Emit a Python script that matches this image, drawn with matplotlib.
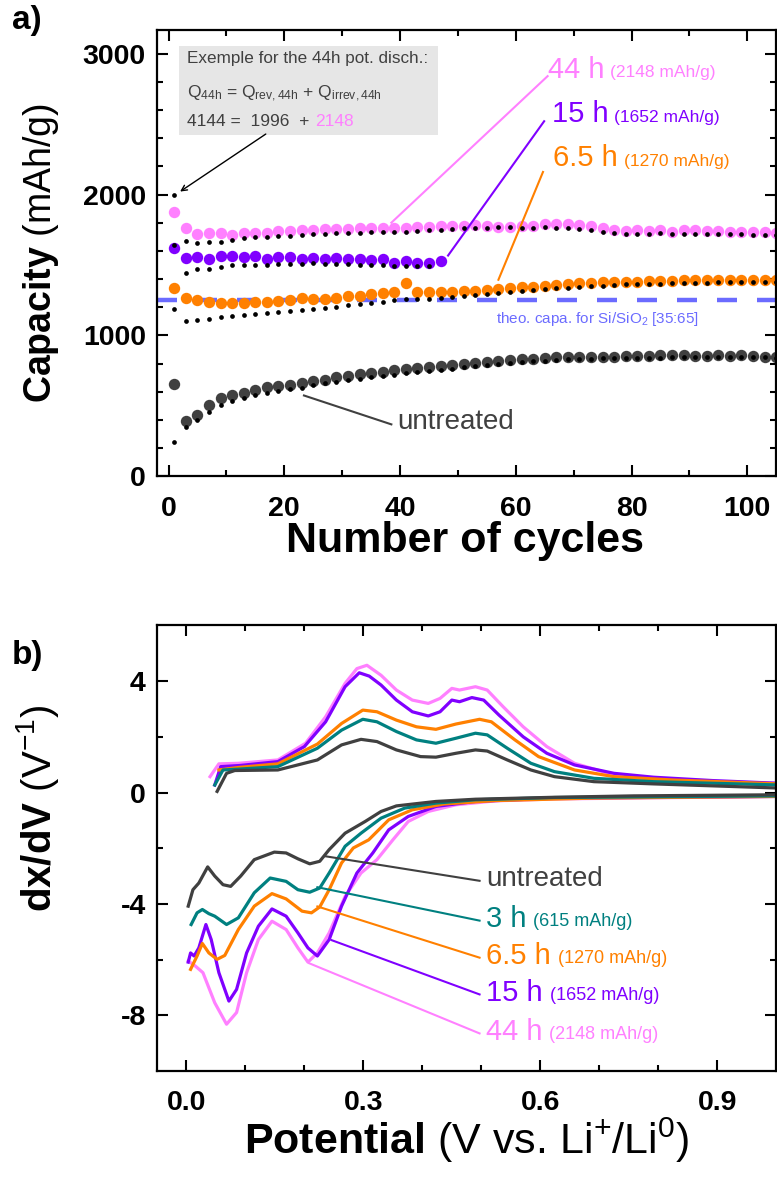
import matplotlib
matplotlib.use("Agg")
import matplotlib.pyplot as plt
import numpy as np
from matplotlib.patches import Rectangle

plt.rcParams['font.family'] = ['Liberation Sans', 'DejaVu Sans']
plt.rcParams['mathtext.fontset'] = 'custom'
plt.rcParams['mathtext.rm'] = 'Liberation Sans'
plt.rcParams['mathtext.it'] = 'Liberation Sans:italic'
plt.rcParams['mathtext.bf'] = 'Liberation Sans:bold'
plt.rcParams['axes.unicode_minus'] = False

# colours
c_pink = '#ff80ff'
c_purple = '#8000ff'
c_orange = '#ff8000'
c_teal = '#008080'
c_gray = '#404040'
c_theo = '#6b6bff'

# ---------------- panel a data (every 2nd cycle) ----------------
cycles = np.arange(1, 106, 2)
cycles_15h = cycles[:24]

cap_44h = [1875, 1760, 1720, 1724, 1724, 1712, 1729, 1729, 1729, 1741,
           1741, 1748, 1748, 1755, 1755, 1755, 1765, 1765, 1765, 1765,
           1765, 1770, 1772, 1779, 1779, 1779, 1784, 1779, 1772, 1772,
           1779, 1779, 1789, 1789, 1789, 1784, 1779, 1760, 1748, 1741,
           1745, 1741, 1745, 1736, 1745, 1745, 1741, 1738, 1736, 1736,
           1731, 1731, 1729]
rev_44h = [1995, 1672, 1657, 1660, 1665, 1676, 1688, 1696, 1700, 1703,
           1708, 1712, 1717, 1719, 1724, 1724, 1726, 1731, 1731, 1736,
           1736, 1741, 1746, 1748, 1755, 1760, 1765, 1765, 1770, 1770,
           1765, 1765, 1770, 1765, 1760, 1755, 1748, 1736, 1724, 1719,
           1721, 1721, 1724, 1719, 1719, 1719, 1719, 1717, 1717, 1717,
           1714, 1714, 1712]

cap_15h = [1621, 1550, 1557, 1540, 1564, 1564, 1555, 1564, 1545, 1555,
           1555, 1545, 1550, 1545, 1550, 1540, 1545, 1533, 1540, 1516,
           1526, 1511, 1516, 1526]
rev_15h = [1645, 1442, 1473, 1473, 1485, 1497, 1497, 1502, 1502, 1506,
           1506, 1509, 1511, 1509, 1506, 1506, 1502, 1502, 1497, 1490,
           1490, 1490, 1490]

cap_6h = [1336, 1265, 1248, 1240, 1233, 1233, 1233, 1238, 1240, 1245,
          1250, 1269, 1262, 1262, 1269, 1277, 1281, 1291, 1298, 1305,
          1372, 1305, 1305, 1305, 1310, 1315, 1317, 1324, 1329, 1334,
          1341, 1346, 1353, 1360, 1365, 1370, 1372, 1377, 1377, 1382,
          1382, 1387, 1387, 1389, 1391, 1394, 1394, 1396, 1396, 1396,
          1396, 1396, 1394]
rev_6h = [1186, 1102, 1109, 1118, 1130, 1138, 1147, 1154, 1162, 1169,
          1174, 1181, 1190, 1198, 1205, 1214, 1224, 1233, 1240, 1248,
          1257, 1257, 1262, 1269, 1274, 1281, 1286, 1293, 1300, 1310,
          1315, 1322, 1329, 1334, 1339, 1346, 1348, 1353, 1358, 1363,
          1365, 1368, 1368, 1372, 1375, 1375, 1375, 1377, 1377, 1377,
          1377, 1377, 1377]

cap_untr = [654, 395, 438, 503, 558, 575, 592, 615, 635, 644,
            651, 663, 678, 687, 702, 714, 726, 735, 742, 754,
            762, 771, 778, 783, 790, 797, 807, 814, 821, 826,
            833, 836, 840, 845, 845, 848, 850, 850, 850, 852,
            855, 855, 860, 862, 860, 857, 857, 860, 855, 862,
            855, 850, 845]
rev_untr = [247, 347, 400, 455, 503, 534, 556, 575, 594, 606,
            623, 630, 647, 659, 671, 683, 692, 702, 711, 721,
            730, 738, 745, 754, 764, 774, 783, 790, 797, 802,
            810, 817, 821, 826, 831, 833, 836, 838, 838, 840,
            840, 840, 843, 845, 845, 845, 845, 845, 845, 845,
            845, 845, 843]

theo_capacity = 1250

# ---------------- panel b data ----------------
v_44_up = [0.040, 0.055, 0.088, 0.155, 0.202, 0.236, 0.269, 0.289, 0.306, 0.330,
           0.356, 0.383, 0.410, 0.430, 0.450, 0.463, 0.490, 0.510, 0.537, 0.571,
           0.611, 0.658, 0.725, 0.792, 0.892, 1.005]
d_44_up = [0.57, 1.03, 1.05, 1.17, 1.77, 2.72, 3.92, 4.45, 4.57, 4.21,
           3.68, 3.32, 3.20, 3.38, 3.74, 3.68, 3.80, 3.68, 3.08, 2.36,
           1.65, 1.05, 0.63, 0.48, 0.39, 0.33]
v_15_up = [0.048, 0.058, 0.090, 0.155, 0.200, 0.236, 0.269, 0.293, 0.310, 0.330,
           0.356, 0.383, 0.410, 0.430, 0.450, 0.463, 0.484, 0.504, 0.530, 0.571,
           0.611, 0.658, 0.725, 0.792, 0.892, 1.005]
d_15_up = [0.27, 0.93, 0.97, 1.11, 1.65, 2.54, 3.80, 4.30, 4.18, 3.86,
           3.32, 2.90, 2.75, 2.90, 3.32, 3.26, 3.41, 3.32, 2.78, 2.00,
           1.41, 0.99, 0.69, 0.55, 0.43, 0.33]
v_6_up = [0.055, 0.088, 0.155, 0.222, 0.263, 0.299, 0.323, 0.356, 0.390, 0.423,
          0.457, 0.497, 0.517, 0.557, 0.597, 0.658, 0.725, 0.825, 1.005]
d_6_up = [0.81, 0.90, 1.03, 1.74, 2.48, 2.96, 2.90, 2.60, 2.36, 2.27,
          2.46, 2.63, 2.54, 1.89, 1.29, 0.81, 0.57, 0.45, 0.31]
v_3_up = [0.048, 0.062, 0.088, 0.155, 0.222, 0.263, 0.299, 0.323, 0.356, 0.390,
          0.423, 0.457, 0.490, 0.510, 0.544, 0.584, 0.624, 0.691, 0.792, 1.005]
d_3_up = [0.27, 0.81, 0.84, 0.93, 1.59, 2.24, 2.63, 2.54, 2.19, 1.89,
          1.77, 1.95, 2.13, 2.07, 1.59, 1.05, 0.75, 0.51, 0.39, 0.27]
v_un_up = [0.052, 0.068, 0.082, 0.155, 0.222, 0.263, 0.296, 0.323, 0.356, 0.397,
           0.423, 0.457, 0.490, 0.510, 0.544, 0.584, 0.624, 0.691, 0.792, 1.005]
d_un_up = [0.04, 0.69, 0.79, 0.81, 1.17, 1.71, 1.91, 1.83, 1.53, 1.29,
           1.27, 1.41, 1.53, 1.49, 1.17, 0.81, 0.57, 0.39, 0.31, 0.16]

v_un_dn = [0.003, 0.011, 0.021, 0.036, 0.048, 0.062, 0.075, 0.092, 0.115, 0.149,
           0.169, 0.189, 0.209, 0.226, 0.242, 0.269, 0.303, 0.330, 0.356, 0.423,
           0.490, 0.624, 0.758, 1.005]
d_un_dn = [-4.08, -3.49, -3.25, -2.67, -3.00, -3.31, -3.37, -3.00, -2.41, -2.14,
           -2.17, -2.38, -2.56, -2.47, -2.05, -1.46, -1.04, -0.68, -0.48, -0.32,
           -0.24, -0.17, -0.12, -0.08]
v_3_dn = [0.008, 0.018, 0.027, 0.038, 0.048, 0.068, 0.088, 0.115, 0.142, 0.169,
          0.189, 0.209, 0.226, 0.242, 0.269, 0.296, 0.330, 0.370, 0.423, 0.490,
          0.624, 1.005]
d_3_dn = [-4.74, -4.32, -4.20, -4.35, -4.44, -4.74, -4.50, -3.60, -3.07, -3.19,
          -3.49, -3.58, -3.43, -2.89, -1.93, -1.46, -0.92, -0.56, -0.38, -0.26,
          -0.18, -0.12]
v_6_dn = [0.007, 0.018, 0.027, 0.038, 0.052, 0.065, 0.088, 0.115, 0.145, 0.169,
          0.196, 0.212, 0.226, 0.242, 0.263, 0.283, 0.309, 0.343, 0.383, 0.437,
          0.524, 0.691, 1.005]
d_6_dn = [-6.35, -5.87, -5.42, -5.76, -5.99, -5.85, -4.92, -4.08, -3.63, -3.82,
          -4.26, -4.32, -4.11, -3.49, -2.53, -1.99, -1.70, -0.98, -0.62, -0.41,
          -0.29, -0.20, -0.14]
v_15_dn = [0.003, 0.007, 0.013, 0.021, 0.033, 0.042, 0.055, 0.072, 0.085, 0.102,
           0.122, 0.145, 0.169, 0.189, 0.206, 0.222, 0.242, 0.263, 0.289, 0.316,
           0.343, 0.376, 0.423, 0.490, 0.624, 1.005]
d_15_dn = [-6.09, -5.76, -5.87, -5.58, -4.74, -5.28, -6.47, -7.49, -7.07, -5.76,
           -4.80, -4.18, -4.44, -5.04, -5.58, -5.87, -5.28, -4.08, -2.89, -2.17,
           -1.34, -0.86, -0.50, -0.32, -0.20, -0.14]
v_44_dn = [0.003, 0.015, 0.028, 0.048, 0.068, 0.085, 0.102, 0.122, 0.145, 0.169,
           0.189, 0.206, 0.222, 0.242, 0.269, 0.296, 0.323, 0.350, 0.376, 0.410,
           0.457, 0.524, 0.624, 1.005]
d_44_dn = [-6.05, -6.23, -6.47, -7.55, -8.32, -7.90, -6.47, -5.28, -4.62, -4.92,
           -5.58, -6.09, -5.76, -5.04, -3.73, -2.89, -2.41, -1.70, -1.04, -0.68,
           -0.44, -0.30, -0.23, -0.14]

# ---------------- figure ----------------
fig = plt.figure(figsize=(7.77, 11.85), dpi=100)
ax1 = fig.add_axes([0.202, 0.598, 0.797, 0.377])
ax2 = fig.add_axes([0.202, 0.0962, 0.797, 0.376])

for ax in (ax1, ax2):
    for s in ax.spines.values():
        s.set_linewidth(1.6)
    ax.tick_params(which='both', direction='in', top=True, right=True, width=1.5)
    ax.tick_params(which='major', length=8, labelsize=20.5)
    ax.tick_params(which='minor', length=4)

# ---- panel a ----
big = 8.2
small = 3.4
ax1.axhline(theo_capacity, color=c_theo, lw=3.2, ls=(0, (4.5, 4.5)), zorder=1)
ax1.plot(cycles, cap_44h, 'o', color=c_pink, ms=big, mec='none', zorder=2)
ax1.plot(cycles_15h, cap_15h, 'o', color=c_purple, ms=big, mec='none', zorder=2)
ax1.plot(cycles, cap_6h, 'o', color=c_orange, ms=big, mec='none', zorder=2)
ax1.plot(cycles, cap_untr, 'o', color=c_gray, ms=big, mec='none', zorder=2)
ax1.plot(cycles, rev_44h, 'o', color='black', ms=small, mec='none', zorder=3)
ax1.plot(cycles_15h[:len(rev_15h)], rev_15h, 'o', color='black', ms=small, mec='none', zorder=3)
ax1.plot(cycles, rev_6h, 'o', color='black', ms=small, mec='none', zorder=3)
ax1.plot(cycles, rev_untr, 'o', color='black', ms=small, mec='none', zorder=3)

ax1.set_xlim(-2, 105)
ax1.set_ylim(0, 3170)
ax1.set_xticks([0, 20, 40, 60, 80, 100])
ax1.set_xticks(np.arange(10, 105, 20), minor=True)
ax1.set_yticks([0, 1000, 2000, 3000])
ax1.set_yticks([200, 400, 600, 800, 1200, 1400, 1600, 1800, 2200, 2400, 2600, 2800], minor=True)
ax1.tick_params(axis='x', pad=14)
ax1.tick_params(axis='y', pad=8)
for lab in ax1.get_xticklabels() + ax1.get_yticklabels():
    lab.set_fontweight('bold')

ax1.set_xlabel('Number of cycles', fontsize=31, fontweight='bold')
ax1.xaxis.set_label_coords(0.498, -0.10)
ax1.set_ylabel(r'$\mathbf{Capacity}$ (mAh/g)', fontsize=27)
ax1.yaxis.set_label_coords(-0.155, 0.5)

ax1.text(56.5, 1120, r'theo. capa. for Si/SiO$_2$ [35:65]', color=c_theo,
         fontsize=11, va='center', ha='left')

# annotation box
ax1.add_patch(Rectangle((0.0355, 0.765), 0.4185, 0.199, transform=ax1.transAxes,
                        facecolor='#e6e6e6', edgecolor='none', zorder=0.5))
ax1.text(0.048, 0.935, 'Exemple for the 44h pot. disch.:', transform=ax1.transAxes,
         fontsize=12.3, color=c_gray, va='center')
ax1.text(0.048, 0.857, r'Q$_\mathrm{44h}$ = Q$_\mathrm{rev,44h}$ + Q$_\mathrm{irrev,44h}$',
         transform=ax1.transAxes, fontsize=12.5, color=c_gray, va='center')
ax1.text(0.048, 0.794, '4144 =  1996  +', transform=ax1.transAxes,
         fontsize=12.5, color=c_gray, va='center')
ax1.text(0.255, 0.794, '2148', transform=ax1.transAxes,
         fontsize=12.5, color=c_pink, va='center')
ax1.annotate('', xy=(1.6, 2010), xytext=(17.2, 2440),
             arrowprops=dict(arrowstyle='->', color='black', lw=1.0))

# series labels panel a
labels_a = [('44 h', '(2148 mAh/g)', c_pink, (65.5, 2885), (67.0, 2880), (38.5, 1800)),
            ('15 h', '(1652 mAh/g)', c_purple, (66.3, 2570), (66.4, 2560), (48.3, 1567)),
            ('6.5 h', '(1270 mAh/g)', c_orange, (66.5, 2260), (66.2, 2200), (57.0, 1395))]
for big_t, small_t, col, tpos, lstart, lend in labels_a:
    t = ax1.text(tpos[0], tpos[1], big_t, color=col, fontsize=21, va='center', ha='left')
    ax1.annotate(small_t, xy=(1, 0.12), xycoords=t, xytext=(4, 0),
                 textcoords='offset points', color=col, fontsize=12.5, va='bottom')
    ax1.plot([lstart[0] - 1.5, lend[0]], [lstart[1] - 40, lend[1]], color=col, lw=1.5)

ax1.text(39.5, 383, 'untreated', color=c_gray, fontsize=20, va='center', ha='left')
ax1.plot([38.5, 23.4], [369, 574], color=c_gray, lw=1.5)

# ---- panel b ----
lw = 2.3
ax2.plot(v_44_up, d_44_up, color=c_pink, lw=lw)
ax2.plot(v_44_dn, d_44_dn, color=c_pink, lw=lw)
ax2.plot(v_15_up, d_15_up, color=c_purple, lw=lw)
ax2.plot(v_15_dn, d_15_dn, color=c_purple, lw=lw)
ax2.plot(v_6_up, d_6_up, color=c_orange, lw=lw)
ax2.plot(v_6_dn, d_6_dn, color=c_orange, lw=lw)
ax2.plot(v_3_up, d_3_up, color=c_teal, lw=lw)
ax2.plot(v_3_dn, d_3_dn, color=c_teal, lw=lw)
ax2.plot(v_un_up, d_un_up, color=c_gray, lw=lw)
ax2.plot(v_un_dn, d_un_dn, color=c_gray, lw=lw)

ax2.set_xlim(-0.05, 1.0)
ax2.set_ylim(-10, 6)
ax2.set_xticks([0.0, 0.3, 0.6, 0.9])
ax2.set_xticklabels(['0.0', '0.3', '0.6', '0.9'])
ax2.set_xticks([0.1, 0.2, 0.4, 0.5, 0.7, 0.8], minor=True)
ax2.set_yticks([-8, -4, 0, 4])
ax2.set_yticklabels(['-8', '-4', '0', '4'])
ax2.set_yticks([-6, -2, 2], minor=True)
ax2.tick_params(axis='x', pad=14)
ax2.tick_params(axis='y', pad=8)
for lab in ax2.get_xticklabels() + ax2.get_yticklabels():
    lab.set_fontweight('bold')

ax2.set_xlabel(r'$\mathbf{Potential}$ (V vs. Li$^{+}$/Li$^{0}$)', fontsize=31)
ax2.xaxis.set_label_coords(0.5, -0.10)
ax2.set_ylabel(r'$\mathbf{dx/dV}$ (V$^{-1}$)', fontsize=29)
ax2.yaxis.set_label_coords(-0.155, 0.59)

labels_b = [('untreated', '', c_gray, -3.12, (0.236, -2.29)),
            ('3 h', '(615 mAh/g)', c_teal, -4.55, (0.222, -3.40)),
            ('6.5 h', '(1270 mAh/g)', c_orange, -5.88, (0.222, -4.09)),
            ('15 h', '(1652 mAh/g)', c_purple, -7.20, (0.246, -5.30)),
            ('44 h', '(2148 mAh/g)', c_pink, -8.60, (0.208, -6.13))]
for big_t, small_t, col, ty, lend in labels_b:
    t = ax2.text(0.508, ty, big_t, color=col, fontsize=20 if small_t == '' else 21,
                 va='center', ha='left')
    if small_t:
        ax2.annotate(small_t, xy=(1, 0.1), xycoords=t, xytext=(5, 0),
                     textcoords='offset points', color=col, fontsize=13, va='bottom')
    ax2.plot([0.497, lend[0]], [ty - 0.05, lend[1]], color=col, lw=1.5)

fig.text(0.015, 0.983, 'a)', fontsize=24, fontweight='bold', va='center')
fig.text(0.015, 0.447, 'b)', fontsize=24, fontweight='bold', va='center')

fig.savefig('out.png', dpi=100)
